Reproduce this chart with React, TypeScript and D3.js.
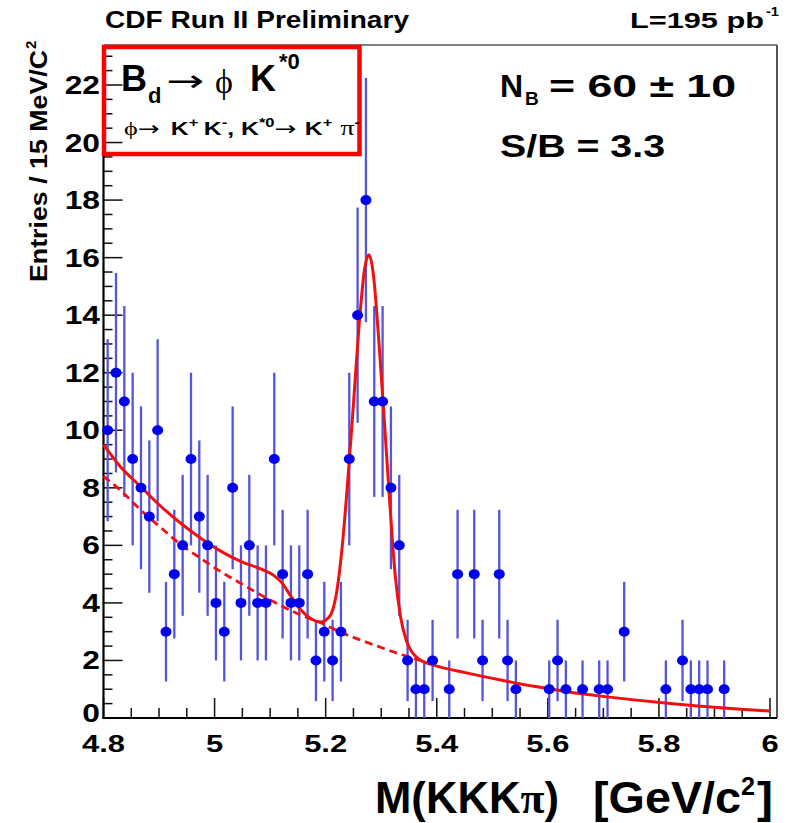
import React from "react";
import * as d3 from "d3";

// ---------------- data ----------------
const binLow = 4.8;
const binWidth = 0.015;
const counts = [
  10, 12, 11, 9, 8, 7, 10, 3, 5, 6,
  9, 7, 6, 4, 3, 8, 4, 6, 4, 4,
  9, 5, 4, 4, 5, 2, 3, 2, 3, 9,
  14, 18, 11, 11, 8, 6, 2, 1, 1, 2,
  0, 1, 5, 0, 5, 2, 0, 5, 2, 1,
  0, 0, 0, 1, 2, 1, 0, 1, 0, 1,
  1, 0, 3, 0, 0, 0, 0, 1, 0, 2,
  1, 1, 1, 0, 1, 0, 0, 0, 0, 0,
];

// total fit (solid)
const fitMass = [
  4.8, 4.83, 4.867, 4.903, 4.939, 4.975, 5.011, 5.047, 5.083, 5.107, 5.122, 5.137,
  5.155, 5.173, 5.19, 5.2, 5.21, 5.22, 5.23, 5.24, 5.25, 5.26, 5.27, 5.278, 5.286,
  5.295, 5.305, 5.315, 5.325, 5.335, 5.345, 5.355, 5.37, 5.395, 5.455, 5.515, 5.575,
  5.635, 5.695, 5.755, 5.816, 5.876, 5.935, 6.0,
];
const fitValue = [
  9.5, 8.74, 8.04, 7.36, 6.77, 6.25, 5.8, 5.44, 5.18, 4.95, 4.68, 4.24,
  3.76, 3.46, 3.34, 3.4, 3.62, 4.4, 6.0, 8.3, 10.9, 13.6, 15.6, 16.1, 15.4,
  13.3, 10.5, 7.6, 5.0, 3.5, 2.7, 2.3, 2.02, 1.84, 1.56, 1.32, 1.1,
  0.91, 0.76, 0.63, 0.51, 0.41, 0.32, 0.24,
];

// background (dashed)
const bkgMass = [
  4.8, 4.83, 4.867, 4.903, 4.939, 4.975, 5.011, 5.047, 5.083, 5.12, 5.155, 5.191,
  5.227, 5.264, 5.3, 5.34, 5.38, 5.4,
];
const bkgValue = [
  8.4, 7.92, 7.23, 6.62, 6.03, 5.55, 5.09, 4.68, 4.28, 3.9, 3.58, 3.31,
  2.98, 2.7, 2.45, 2.18, 1.96, 1.88,
];

const xTickLabels = ["4.8", "5", "5.2", "5.4", "5.6", "5.8", "6"];
const yTickLabels = ["0", "2", "4", "6", "8", "10", "12", "14", "16", "18", "20", "22"];

// ---------------- layout ----------------
const W = 789;
const H = 823;
const left = 103.5;
const right = 777;
const top = 45;
const bottom = 718;

const FONT = "'Liberation Sans', Arial, Helvetica, sans-serif";
const SERIF = "'Liberation Serif', 'DejaVu Serif', serif";
const ARROWF = "'DejaVu Sans', sans-serif";
const RED = "#f01010";

export default function App() {
  const x = d3.scaleLinear().domain([4.8, 6.0]).range([left, 770]);
  const y = d3.scaleLinear().domain([0, 22]).range([bottom, 85]);

  const points = counts
    .map((n, i) => ({ m: binLow + binWidth * (i + 0.5), n }))
    .filter((d) => d.n > 0);

  const line = d3
    .line<[number, number]>()
    .x((d) => x(d[0]))
    .y((d) => y(d[1]))
    .curve(d3.curveMonotoneX);

  const fitPath = line(fitMass.map((m, i) => [m, fitValue[i]] as [number, number])) || "";
  const bkgPath = line(bkgMass.map((m, i) => [m, bkgValue[i]] as [number, number])) || "";

  const yMinor = d3.range(0, 23.01, 0.5);
  const xMinor = d3.range(0, 25).map((i) => 4.8 + i * 0.05);

  return (
    <svg
      width={W}
      height={H}
      viewBox={`0 0 ${W} ${H}`}
      style={{ position: "absolute", left: 0, top: 0, background: "#fff" }}
    >
      <rect x={0} y={0} width={W} height={H} fill="#fff" />

      {/* frame */}
      <line x1={left} x2={right} y1={top} y2={top} stroke="#555" strokeWidth={1.5} />
      <line x1={right} x2={right} y1={top} y2={bottom} stroke="#555" strokeWidth={2} />

      {/* y ticks */}
      {yMinor.map((v) => {
        const major = Math.abs(v % 2) < 1e-9;
        return (
          <line
            key={"yt" + v}
            x1={left}
            x2={left + (major ? 19 : 9)}
            y1={y(v)}
            y2={y(v)}
            stroke="#111"
            strokeWidth={1.5}
          />
        );
      })}
      {/* x ticks */}
      {xMinor.map((v, i) => {
        const major = i % 4 === 0;
        return (
          <line
            key={"xt" + i}
            x1={x(v)}
            x2={x(v)}
            y1={bottom}
            y2={bottom - (major ? 20 : 10)}
            stroke="#111"
            strokeWidth={1.5}
          />
        );
      })}

      {/* axes */}
      <line x1={left} x2={left} y1={top} y2={bottom + 1} stroke="#000" strokeWidth={2.2} />
      <line x1={left - 1} x2={right} y1={bottom} y2={bottom} stroke="#000" strokeWidth={2.2} />

      {/* y tick labels */}
      {yTickLabels.map((t) => (
        <text
          key={"yl" + t}
          transform={`translate(100, ${y(+t) + (t === "0" ? 4 : 9)}) scale(1.27, 1)`}
          textAnchor="end"
          fontFamily={FONT}
          fontWeight="bold"
          fontSize={25}
          fill="#000"
        >
          {t}
        </text>
      ))}
      {/* x tick labels */}
      {xTickLabels.map((t) => (
        <text
          key={"xl" + t}
          transform={`translate(${x(+t)}, 752) scale(1.29, 1)`}
          textAnchor="middle"
          fontFamily={FONT}
          fontWeight="bold"
          fontSize={24}
          fill="#000"
        >
          {t}
        </text>
      ))}

      {/* error bars */}
      {points.map((d, i) => (
        <line
          key={"eb" + i}
          x1={x(d.m)}
          x2={x(d.m)}
          y1={y(Math.max(0, d.n - Math.sqrt(d.n)))}
          y2={y(d.n + Math.sqrt(d.n))}
          stroke="#5454dc"
          strokeWidth={2.3}
        />
      ))}

      {/* fit curves */}
      <path d={bkgPath} fill="none" stroke={RED} strokeWidth={2.8} strokeDasharray="8,5" />
      <path d={fitPath} fill="none" stroke={RED} strokeWidth={3} />

      {/* markers */}
      {points.map((d, i) => (
        <ellipse key={"mk" + i} cx={x(d.m)} cy={y(d.n)} rx={5.5} ry={5} fill="#0000f0" />
      ))}

      {/* header */}
      <text x={105} y={28} fontFamily={FONT} fontWeight="bold" fontSize={24} textLength={304} lengthAdjust="spacingAndGlyphs">
        CDF Run II Preliminary
      </text>
      <text x={630} y={28} fontFamily={FONT} fontWeight="bold" fontSize={22} textLength={134} lengthAdjust="spacingAndGlyphs">
        L=195 pb
      </text>
      <text x={766} y={16} fontFamily={FONT} fontWeight="bold" fontSize={13} textLength={13} lengthAdjust="spacingAndGlyphs">
        -1
      </text>

      {/* legend box */}
      <rect x={104} y={47} width={255.5} height={107} fill="none" stroke="#ff0000" strokeWidth={4.5} />
      <text x={121} y={91} fontFamily={FONT} fontWeight="bold" fontSize={36}>B</text>
      <text x={148} y={103} fontFamily={FONT} fontWeight="bold" fontSize={22}>d</text>
      <text x={166} y={91} fontFamily={ARROWF} fontSize={30} textLength={38} lengthAdjust="spacingAndGlyphs">→</text>
      <text x={215} y={93} fontFamily={SERIF} fontSize={34}>ϕ</text>
      <text x={250} y={91} fontFamily={FONT} fontWeight="bold" fontSize={36}>K</text>
      <text x={279} y={69} fontFamily={FONT} fontWeight="bold" fontSize={22}>*0</text>

      <text
        x={124}
        y={135}
        fontFamily={FONT}
        fontWeight="bold"
        fontSize={18}
        textLength={236}
        lengthAdjust="spacingAndGlyphs"
      >
        <tspan fontFamily={SERIF} fontWeight="normal" fontSize={19}>ϕ</tspan>
        <tspan fontFamily={ARROWF} fontWeight="normal" fontSize={19}>→</tspan>
        <tspan dx={8}>K</tspan>
        <tspan dy={-8} fontSize={12}>+</tspan>
        <tspan dx={4} dy={8}>K</tspan>
        <tspan dy={-8} fontSize={12}>-</tspan>
        <tspan dy={8}>, K</tspan>
        <tspan dy={-8} fontSize={12}>*0</tspan>
        <tspan dy={8} fontFamily={ARROWF} fontWeight="normal" fontSize={19}>→</tspan>
        <tspan dx={6}>K</tspan>
        <tspan dy={-8} fontSize={12}>+</tspan>
        <tspan dx={6} dy={8} fontFamily={SERIF} fontWeight="normal" fontSize={20}>π</tspan>
        <tspan dy={-8} fontSize={12}>-</tspan>
      </text>

      {/* stats */}
      <text x={500} y={97} fontFamily={FONT} fontWeight="bold" fontSize={32}>N</text>
      <text x={525} y={105} fontFamily={FONT} fontWeight="bold" fontSize={19}>B</text>
      <text x={549} y={97} fontFamily={FONT} fontWeight="bold" fontSize={32} textLength={187} lengthAdjust="spacingAndGlyphs">
        {"=  60 ± 10"}
      </text>
      <text x={500} y={157} fontFamily={FONT} fontWeight="bold" fontSize={32} textLength={165} lengthAdjust="spacingAndGlyphs">
        S/B = 3.3
      </text>

      {/* y axis title */}
      <text
        transform="translate(47, 282) rotate(-90)"
        fontFamily={FONT}
        fontWeight="bold"
        fontSize={24}
        textLength={232}
        lengthAdjust="spacingAndGlyphs"
      >
        Entries / 15 MeV/C
      </text>
      <text transform="translate(36, 49) rotate(-90)" fontFamily={FONT} fontWeight="bold" fontSize={15}>
        2
      </text>

      {/* x axis title */}
      <text x={375} y={813} fontFamily={FONT} fontWeight="bold" fontSize={44} textLength={184} lengthAdjust="spacingAndGlyphs">
        M(KKK<tspan fontFamily={SERIF}>π</tspan>)
      </text>
      <text x={593} y={813} fontFamily={FONT} fontWeight="bold" fontSize={44} textLength={148} lengthAdjust="spacingAndGlyphs">
        [GeV/c
      </text>
      <text x={741} y={795} fontFamily={FONT} fontWeight="bold" fontSize={26} textLength={14} lengthAdjust="spacingAndGlyphs">
        2
      </text>
      <text x={757} y={813} fontFamily={FONT} fontWeight="bold" fontSize={44} textLength={16} lengthAdjust="spacingAndGlyphs">
        ]
      </text>
    </svg>
  );
}
